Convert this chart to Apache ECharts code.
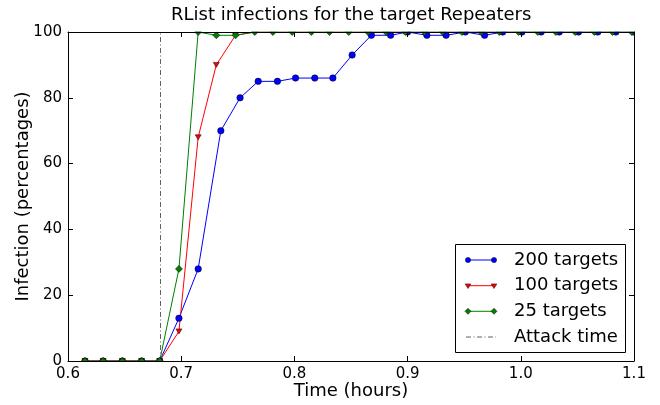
<!DOCTYPE html>
<html><head><meta charset="utf-8">
<script src="https://cdn.jsdelivr.net/npm/echarts@6/dist/echarts.min.js"></script>
<style>html,body{margin:0;padding:0;background:#fff}#c{width:660px;height:405px}</style>
</head><body><div id="c"></div>
<script>
// ---- data ----
const xTicks = [0.6, 0.7, 0.8, 0.9, 1.0, 1.1];
const yTicks = [0, 20, 40, 60, 80, 100];
// sample times (hours) for the 100 / 25 target runs
const timesA = [0.615, 0.631, 0.648, 0.665, 0.681, 0.698, 0.715, 0.731, 0.748, 0.765,
                0.781, 0.798, 0.815, 0.831, 0.848, 0.865, 0.881, 0.898, 0.915, 0.931,
                0.948, 0.965, 0.981, 0.998, 1.015, 1.031, 1.048, 1.065, 1.081, 1.098];
// sample times (hours) for the 200 target run
const timesB = [0.615, 0.631, 0.648, 0.665, 0.681, 0.698, 0.715, 0.735, 0.752, 0.768,
                0.785, 0.801, 0.818, 0.834, 0.851, 0.868, 0.885, 0.900, 0.917, 0.934,
                0.951, 0.968, 0.984, 1.001, 1.018, 1.034, 1.051, 1.068, 1.084, 1.100];
const infect200 = [0, 0, 0, 0, 0, 13, 28, 70, 80, 85, 85, 86, 86, 86, 93, 99, 99, 100, 99, 99,
                   100, 99, 100, 100, 100, 100, 100, 100, 100, 100];
const infect100 = [0, 0, 0, 0, 0, 9, 68, 90, 99, 100, 100, 100, 100, 100, 100, 100, 100, 100, 100, 100,
                   100, 100, 100, 100, 100, 100, 100, 100, 100, 100];
const infect25 = [0, 0, 0, 0, 0, 28, 100, 99, 99, 100, 100, 100, 100, 100, 100, 100, 100, 100, 100, 100,
                  100, 100, 100, 100, 100, 100, 100, 100, 100, 100];
const attackTime = 0.6817;
const seriesNames = ['200 targets', '100 targets', '25 targets', 'Attack time'];
const seriesColors = ['#0000ff', '#ff0000', '#008000', '#606060'];

// ---- chart ----
const FONT = 'DejaVu Sans';
const pair = (xs, ys) => xs.map((x, i) => [x, ys[i]]);
const chart = echarts.init(document.getElementById('c'), null, {renderer: 'canvas'});

const G = {left: 68, right: 26, top: 32, bottom: 44};
const W = 660, H = 405;

function baseX(pos, show) {
  return {
    type: 'value', position: pos, min: xTicks[0], max: xTicks[xTicks.length - 1], interval: 0.1, z: 10,
    axisLine: {show: true, onZero: false, lineStyle: {color: '#000', width: 1}},
    axisTick: {show: true, inside: true, length: 5, lineStyle: {color: '#000', width: 1}},
    splitLine: {show: false},
    axisLabel: {show: show, margin: 6, color: '#000', fontSize: 15, fontFamily: FONT,
                formatter: v => v.toFixed(1)}
  };
}
function baseY(pos, show) {
  return {
    type: 'value', position: pos, min: yTicks[0], max: yTicks[yTicks.length - 1], interval: 20, z: 10,
    axisLine: {show: true, onZero: false, lineStyle: {color: '#000', width: 1}},
    axisTick: {show: true, inside: true, length: 5, lineStyle: {color: '#000', width: 1}},
    splitLine: {show: false},
    axisLabel: {show: show, margin: 6, color: '#000', fontSize: 15, fontFamily: FONT}
  };
}
const xMain = Object.assign(baseX('bottom', true), {
  name: 'Time (hours)', nameLocation: 'middle', nameGap: 21, nameMoveOverlap: false,
  nameTextStyle: {color: '#000', fontSize: 18, fontFamily: FONT}
});
const yMain = Object.assign(baseY('left', true), {
  name: 'Infection (percentages)', nameLocation: 'middle', nameGap: 36, nameMoveOverlap: false,
  nameTextStyle: {color: '#000', fontSize: 18, fontFamily: FONT}
});

// legend (drawn as decoration, matplotlib style)
const LX = 455.5, LY = 244.5, LW = 170, LH = 108;
const rowY = [260, 285.7, 311.3, 337];
const legendEls = [{type: 'rect', shape: {x: LX, y: LY, width: LW, height: LH},
  style: {fill: '#fff', stroke: '#000', lineWidth: 1}, z: 20}];
const x0 = 468, x1 = 494;
function markerEl(kind, cx, cy, color) {
  if (kind === 'circle') return {type: 'circle', shape: {cx: cx, cy: cy, r: 2.6}, style: {fill: color, stroke: '#000', lineWidth: 0.5}, z: 22};
  if (kind === 'tri') return {type: 'polygon', shape: {points: [[cx - 2.8, cy - 1.8], [cx + 2.8, cy - 1.8], [cx, cy + 2.8]]}, style: {fill: color, stroke: '#000', lineWidth: 0.5}, z: 22};
  return {type: 'polygon', shape: {points: [[cx, cy - 3], [cx + 3, cy], [cx, cy + 3], [cx - 3, cy]]}, style: {fill: color, stroke: '#000', lineWidth: 0.5}, z: 22};
}
const kinds = ['circle', 'tri', 'diamond'];
seriesNames.forEach((n, i) => {
  const y = rowY[i];
  if (i < 3) {
    legendEls.push({type: 'line', shape: {x1: x0, y1: y, x2: x1, y2: y}, style: {stroke: seriesColors[i], lineWidth: 1}, z: 21});
    legendEls.push(markerEl(kinds[i], x0, y, seriesColors[i]));
    legendEls.push(markerEl(kinds[i], x1, y, seriesColors[i]));
  } else {
    legendEls.push({type: 'line', shape: {x1: x0 - 2, y1: y, x2: x1 + 2, y2: y}, style: {stroke: seriesColors[i], lineWidth: 1, lineDash: [5, 2.5, 1, 2.5]}, z: 21});
  }
  legendEls.push({type: 'text', x: 514, y: y, style: {text: n, fill: '#000', fontSize: 18, fontFamily: FONT, verticalAlign: 'middle', align: 'left'}, z: 22});
});

// white covers emulate clipping of markers at the axes boundary
const covers = [
  {type: 'rect', shape: {x: 0, y: 0, width: W, height: G.top - 0.5}},
  {type: 'rect', shape: {x: 0, y: H - G.bottom + 0.5, width: W, height: G.bottom}},
  {type: 'rect', shape: {x: 0, y: 0, width: G.left - 0.5, height: H}},
  {type: 'rect', shape: {x: W - G.right + 0.5, y: 0, width: G.right, height: H}}
].map(r => Object.assign(r, {style: {fill: '#fff'}, z: 5, silent: true}));

const mk = (name, xs, ys, color, symbol, size, rot) => ({
  name: name, type: 'line', data: pair(xs, ys), xAxisIndex: 0, yAxisIndex: 0,
  symbol: symbol, symbolSize: size, symbolRotate: rot || 0, showSymbol: true, clip: false,
  lineStyle: {color: color, width: 1},
  itemStyle: {color: color, borderColor: '#000', borderWidth: 0.5},
  emphasis: {disabled: true}, z: 2
});

chart.setOption({
  animation: false,
  backgroundColor: '#fff',
  textStyle: {fontFamily: FONT},
  title: {text: 'RList infections for the target Repeaters', left: 171, top: 6, padding: 0, z: 10,
          textStyle: {color: '#000', fontSize: 18, fontWeight: 'normal', fontFamily: FONT}},
  grid: {left: G.left, right: G.right, top: G.top, bottom: G.bottom, containLabel: false, outerBoundsMode: 'none'},
  xAxis: [xMain, baseX('top', false)],
  yAxis: [yMain, baseY('right', false)],
  series: [
    mk(seriesNames[0], timesB, infect200, seriesColors[0], 'circle', 6.5),
    mk(seriesNames[1], timesA, infect100, seriesColors[1], 'triangle', [6, 5], 180),
    mk(seriesNames[2], timesA, infect25, seriesColors[2], 'diamond', 7),
    {name: seriesNames[3], type: 'line', data: [[attackTime, yTicks[0]], [attackTime, yTicks[yTicks.length - 1]]],
     symbol: 'none', clip: false, lineStyle: {color: seriesColors[3], width: 1, type: [5, 2.5, 1, 2.5]},
     emphasis: {disabled: true}, z: 1}
  ],
  graphic: {elements: covers.concat(legendEls)}
});
</script>
</body></html>
